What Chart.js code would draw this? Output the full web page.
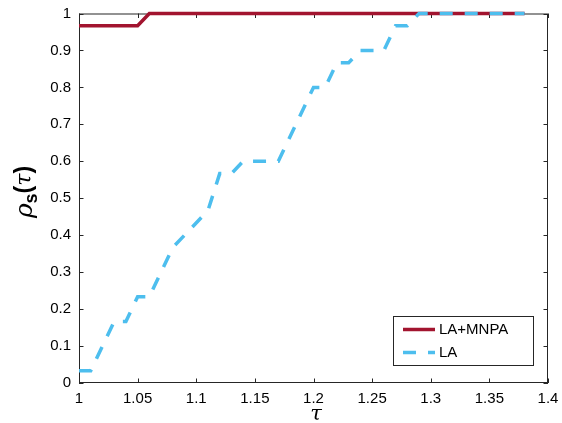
<!DOCTYPE html>
<html>
<head>
<meta charset="utf-8">
<script src="https://cdn.jsdelivr.net/npm/chart.js@4/dist/chart.umd.min.js"></script>
<style>
html,body{margin:0;padding:0;background:#fff;}
#wrap{width:562px;height:423px;}
</style>
</head>
<body>
<div id="wrap"><canvas id="c" width="562" height="423"></canvas></div>
<script>
// ---- data ----
const tauMNPA = [1, 1.05, 1.06, 1.38];
const rhoMNPA = [0.9667, 0.9667, 1, 1];
const tauLA = [1, 1.01, 1.03, 1.04, 1.05, 1.06, 1.08, 1.11, 1.12, 1.13, 1.14, 1.17, 1.2, 1.21, 1.22, 1.23, 1.24, 1.26, 1.27, 1.28, 1.29, 1.38];
const rhoLA = [0.0333, 0.0333, 0.1667, 0.1667, 0.2333, 0.2333, 0.3667, 0.4667, 0.5667, 0.5667, 0.6, 0.6, 0.8, 0.8, 0.8667, 0.8667, 0.9, 0.9, 0.9667, 0.9667, 1, 1];
const xTicks = [1, 1.05, 1.1, 1.15, 1.2, 1.25, 1.3, 1.35, 1.4];
const yTicks = [0, 0.1, 0.2, 0.3, 0.4, 0.5, 0.6, 0.7, 0.8, 0.9, 1];
const seriesNames = ['LA+MNPA', 'LA'];

const RED = '#A2142F';
const BLUE = '#4DBEEE';
const AX = '#262626';
const LA_DASH = [13, 12];

const toPts = (xs, ys) => xs.map((x, i) => ({x: x, y: ys[i]}));

const frame = {
  id: 'frame',
  beforeDatasetsDraw(chart) {
    const {ctx, chartArea: a, scales: {x, y}} = chart;
    ctx.save();
    ctx.strokeStyle = AX;
    ctx.lineWidth = 1;
    ctx.strokeRect(a.left + 0.5, a.top + 0.5, a.right - a.left - 1, a.bottom - a.top - 1);
    const tl = 4.5;
    ctx.beginPath();
    xTicks.forEach(v => {
      const px = Math.round(x.getPixelForValue(v)) + 0.5;
      ctx.moveTo(px, a.bottom); ctx.lineTo(px, a.bottom - tl);
      ctx.moveTo(px, a.top); ctx.lineTo(px, a.top + tl);
    });
    yTicks.forEach(v => {
      const py = Math.round(y.getPixelForValue(v)) + 0.5;
      ctx.moveTo(a.left, py); ctx.lineTo(a.left + tl, py);
      ctx.moveTo(a.right, py); ctx.lineTo(a.right - tl, py);
    });
    ctx.stroke();
    ctx.restore();
  },
  afterDraw(chart) {
    const {ctx} = chart;
    ctx.save();
    // x title
    ctx.fillStyle = '#000';
    ctx.font = 'italic 21px "DejaVu Serif"';
    ctx.textAlign = 'center';
    ctx.textBaseline = 'alphabetic';
    ctx.fillText('τ', 316, 420);
    // y title  ρ_s(τ)
    ctx.translate(32, 192);
    ctx.rotate(-Math.PI / 2);
    const parts = [
      {t: 'ρ', f: 'italic 25px "DejaVu Serif"', dy: 0},
      {t: 's', f: 'bold 18px "Liberation Sans"', dy: 5},
      {t: '(', f: 'bold 23px "Liberation Sans"', dy: -1},
      {t: 'τ', f: 'italic 22px "DejaVu Serif"', dy: -1},
      {t: ')', f: 'bold 23px "Liberation Sans"', dy: -1}
    ];
    let total = 0;
    parts.forEach(p => { ctx.font = p.f; p.w = ctx.measureText(p.t).width; total += p.w; });
    let cx = -total / 2;
    ctx.textAlign = 'left';
    parts.forEach(p => { ctx.font = p.f; ctx.fillText(p.t, cx, p.dy); cx += p.w; });
    ctx.restore();

    // legend
    ctx.save();
    const lx = 393, ly = 316, lw = 140, lh = 49;
    ctx.fillStyle = '#fff';
    ctx.fillRect(lx, ly, lw, lh);
    ctx.strokeStyle = AX;
    ctx.lineWidth = 1;
    ctx.strokeRect(lx + 0.5, ly + 0.5, lw, lh);
    ctx.lineWidth = 3.5;
    ctx.strokeStyle = RED;
    ctx.beginPath(); ctx.moveTo(403, 329.5); ctx.lineTo(435, 329.5); ctx.stroke();
    ctx.strokeStyle = BLUE;
    ctx.setLineDash(LA_DASH);
    ctx.beginPath(); ctx.moveTo(403, 352.5); ctx.lineTo(435, 352.5); ctx.stroke();
    ctx.setLineDash([]);
    ctx.fillStyle = '#000';
    ctx.font = '15px "Liberation Sans"';
    ctx.textBaseline = 'middle';
    ctx.fillText(seriesNames[0], 439, 330);
    ctx.fillText(seriesNames[1], 439, 353);
    ctx.restore();
  }
};

new Chart(document.getElementById('c'), {
  type: 'line',
  data: {
    datasets: [
      {label: seriesNames[0], data: toPts(tauMNPA, rhoMNPA), borderColor: RED, borderWidth: 3.5,
       pointRadius: 0, fill: false, tension: 0, clip: false, order: 2, borderCapStyle: 'butt'},
      {label: seriesNames[1], data: toPts(tauLA, rhoLA), borderColor: BLUE, borderWidth: 3.5,
       borderDash: LA_DASH, pointRadius: 0, fill: false, tension: 0, clip: false, order: 1, borderCapStyle: 'butt'}
    ]
  },
  options: {
    responsive: false,
    animation: false,
    events: [],
    layout: {padding: {left: 0, top: 13.5, right: 14, bottom: 0}},
    plugins: {legend: {display: false}, tooltip: {enabled: false}},
    scales: {
      x: {
        type: 'linear', min: 1, max: 1.4,
        afterFit: s => { s.height = 40; s.paddingLeft = 0; s.paddingRight = 0; },
        afterBuildTicks: s => { s.ticks = xTicks.map(v => ({value: v})); },
        grid: {display: false, drawTicks: false},
        border: {display: false},
        ticks: {color: '#000', font: {family: 'Liberation Sans', size: 15}, padding: 7,
                maxRotation: 0, autoSkip: false, callback: v => String(v)}
      },
      y: {
        type: 'linear', min: 0, max: 1,
        afterFit: s => { s.width = 79; s.paddingTop = 0; s.paddingBottom = 0; },
        afterBuildTicks: s => { s.ticks = yTicks.map(v => ({value: v})); },
        grid: {display: false, drawTicks: false},
        border: {display: false},
        ticks: {color: '#000', font: {family: 'Liberation Sans', size: 15}, padding: 8,
                autoSkip: false, callback: v => String(v)}
      }
    }
  },
  plugins: [frame]
});
</script>
</body>
</html>
